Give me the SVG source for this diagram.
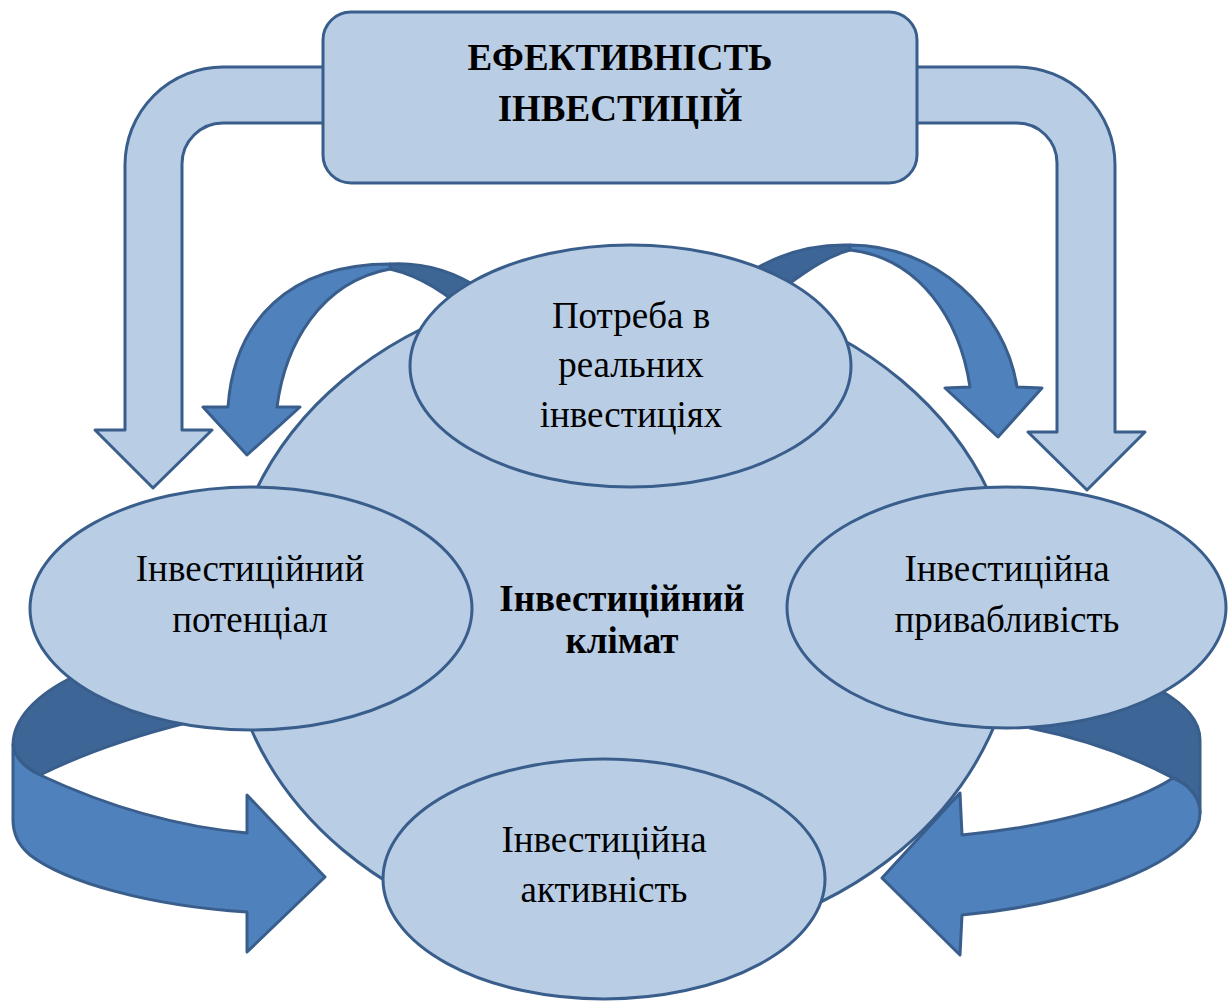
<svg xmlns="http://www.w3.org/2000/svg" width="1228" height="1003" viewBox="0 0 1228 1003">
<style>
.lt{fill:#B9CDE5;stroke:#395E8C;stroke-width:3;stroke-linejoin:round}
.fr{fill:#4F81BD;stroke:#395E8C;stroke-width:3;stroke-linejoin:round}
.bk{fill:#3D6697;stroke:#395E8C;stroke-width:3;stroke-linejoin:round}
.t{font-family:"Liberation Serif","Times New Roman",serif;font-size:37px;fill:#000;text-anchor:middle}
.b{font-weight:bold}
</style>
<rect width="1228" height="1003" fill="#fff"/>
<g id="climate">
<ellipse class="lt" cx="622" cy="615" rx="395" ry="332"/>
</g>
<g id="connectors">
<path class="lt" d="M330,67 L223,67 A98,98 0 0 0 125,165 L125,430 L95,430 L153,488 L212,430 L182,430 L182,164 A41,41 0 0 1 223,123 L330,123 Z"/>
<path class="lt" d="M910,67 L1017,67 A98,98 0 0 1 1115,165 L1115,432 L1145,432 L1087,490 L1028,432 L1057,432 L1057,163 A40,40 0 0 0 1017,123 L910,123 Z"/>
<path class="bk" d="M390,264 C425,262 455,272 482,290 L475,320 C450,295 420,276 390,269 Z"/>
<path class="fr" d="M228,407 C234,320 290,264 390,264 L390,269 C320,282 285,345 277,407 L300,407 L247,455 L203,407 Z"/>
<path class="bk" d="M850,245 C815,244 785,252 757,268 L775,295 L790,283 C808,270 828,256 850,250 Z"/>
<path class="fr" d="M850,245 C935,245 1005,310 1017,387 L1042,388 L998,437 L945,388 L970,387 C960,320 920,258 850,250 Z"/>
<path class="bk" d="M13,745 C13,720 35,695 75,676 L120,665 L200,700 L190,722 C130,737 80,755 40,775 C25,767 15,757 13,745 Z"/>
<path class="fr" d="M40,775 C100,803 170,826 247,833 L247,795 L325,877 L247,952 L247,912 C150,906 65,882 30,855 C18,845 13,832 13,820 L13,745 C15,758 25,768 40,775 Z"/>
<path class="bk" d="M1160,690 C1185,705 1200,720 1200,740 L1200,813 C1200,798 1190,785 1173,778 C1130,755 1080,738 1030,728 L1050,700 L1120,670 Z"/>
<path class="fr" d="M1173,778 C1140,800 1060,826 962,835 L960,793 L882,878 L960,955 L962,915 C1070,905 1160,872 1190,838 C1197,830 1200,822 1200,813 C1200,798 1190,785 1173,778 Z"/>
</g>
<g id="efficiency">
<rect class="lt" x="323" y="12" width="594" height="171" rx="28" ry="28"/>
<text class="t b" x="620" y="70">ЕФЕКТИВНІСТЬ</text>
<text class="t b" x="620" y="121">ІНВЕСТИЦІЙ</text>
</g>
<g id="need">
<ellipse class="lt" cx="630.5" cy="366" rx="220.5" ry="121"/>
<text class="t" x="631" y="328">Потреба в</text>
<text class="t" x="631" y="377">реальних</text>
<text class="t" x="631" y="427">інвестиціях</text>
</g>
<g id="potential">
<ellipse class="lt" cx="251" cy="608.5" rx="221" ry="121.5"/>
<text class="t" x="250" y="581">Інвестиційний</text>
<text class="t" x="250" y="632">потенціал</text>
</g>
<g id="attractiveness">
<ellipse class="lt" cx="1006.5" cy="607.5" rx="219.5" ry="120.5"/>
<text class="t" x="1007" y="581">Інвестиційна</text>
<text class="t" x="1007" y="632">привабливість</text>
</g>
<g id="activity">
<ellipse class="lt" cx="604" cy="879" rx="221" ry="120"/>
<text class="t" x="604" y="852">Інвестиційна</text>
<text class="t" x="604" y="902">активність</text>
</g>
<g id="climate-label">
<text class="t b" x="622" y="611">Інвестиційний</text>
<text class="t b" x="622" y="653">клімат</text>
</g>
</svg>
